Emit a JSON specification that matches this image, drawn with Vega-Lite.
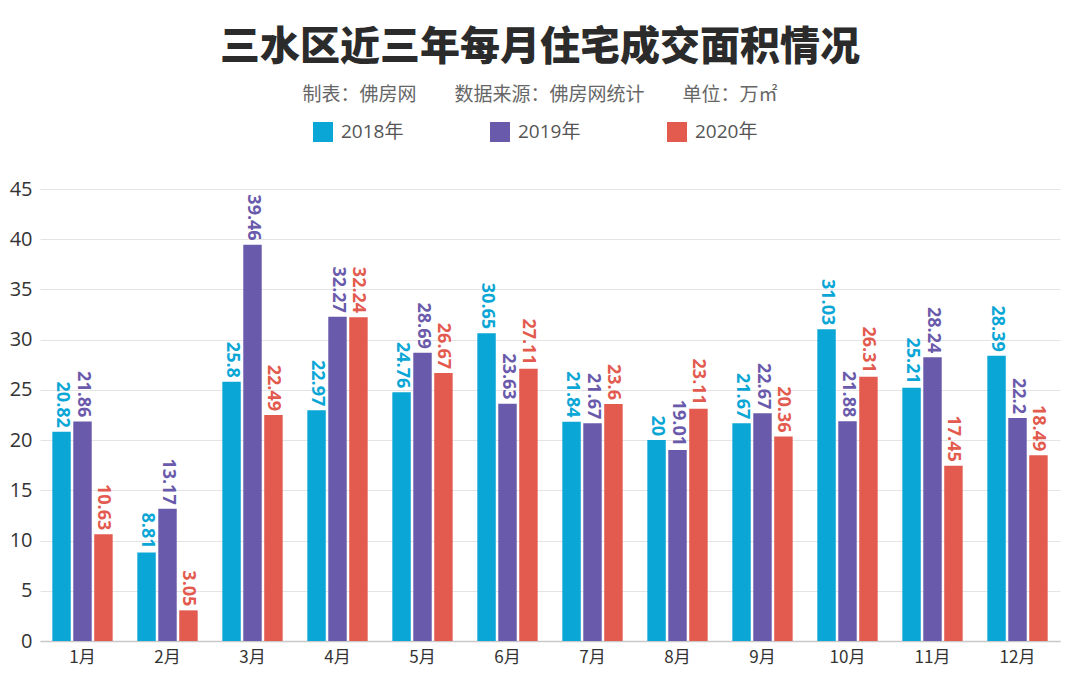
{
  "$schema": "https://vega.github.io/schema/vega-lite/v6.json",
  "width": 1020,
  "height": 452,
  "autosize": {"type": "none"},
  "padding": {"left": 40, "top": 189, "right": 20, "bottom": 34},
  "background": "white",
  "title": {
    "text": "三水区近三年每月住宅成交面积情况",
    "subtitle": "制表：佛房网\u3000\u3000数据来源：佛房网统计\u3000\u3000单位：万㎡",
    "anchor": "middle",
    "frame": "group",
    "offset": 17,
    "dx": -10,
    "font": "Noto Sans CJK SC",
    "fontSize": 40,
    "fontWeight": 900,
    "color": "#2b2b2b",
    "subtitleFont": "Noto Sans CJK SC",
    "subtitleFontSize": 19,
    "subtitleColor": "#666666",
    "subtitlePadding": 18
  },
  "config": {
    "view": {"stroke": null},
    "font": "Open Sans, Noto Sans CJK SC"
  },
  "data": {
    "values": [
      {"month": "1月", "year": "2018年", "value": 20.82},
      {"month": "1月", "year": "2019年", "value": 21.86},
      {"month": "1月", "year": "2020年", "value": 10.63},
      {"month": "2月", "year": "2018年", "value": 8.81},
      {"month": "2月", "year": "2019年", "value": 13.17},
      {"month": "2月", "year": "2020年", "value": 3.05},
      {"month": "3月", "year": "2018年", "value": 25.8},
      {"month": "3月", "year": "2019年", "value": 39.46},
      {"month": "3月", "year": "2020年", "value": 22.49},
      {"month": "4月", "year": "2018年", "value": 22.97},
      {"month": "4月", "year": "2019年", "value": 32.27},
      {"month": "4月", "year": "2020年", "value": 32.24},
      {"month": "5月", "year": "2018年", "value": 24.76},
      {"month": "5月", "year": "2019年", "value": 28.69},
      {"month": "5月", "year": "2020年", "value": 26.67},
      {"month": "6月", "year": "2018年", "value": 30.65},
      {"month": "6月", "year": "2019年", "value": 23.63},
      {"month": "6月", "year": "2020年", "value": 27.11},
      {"month": "7月", "year": "2018年", "value": 21.84},
      {"month": "7月", "year": "2019年", "value": 21.67},
      {"month": "7月", "year": "2020年", "value": 23.6},
      {"month": "8月", "year": "2018年", "value": 20},
      {"month": "8月", "year": "2019年", "value": 19.01},
      {"month": "8月", "year": "2020年", "value": 23.11},
      {"month": "9月", "year": "2018年", "value": 21.67},
      {"month": "9月", "year": "2019年", "value": 22.67},
      {"month": "9月", "year": "2020年", "value": 20.36},
      {"month": "10月", "year": "2018年", "value": 31.03},
      {"month": "10月", "year": "2019年", "value": 21.88},
      {"month": "10月", "year": "2020年", "value": 26.31},
      {"month": "11月", "year": "2018年", "value": 25.21},
      {"month": "11月", "year": "2019年", "value": 28.24},
      {"month": "11月", "year": "2020年", "value": 17.45},
      {"month": "12月", "year": "2018年", "value": 28.39},
      {"month": "12月", "year": "2019年", "value": 22.2},
      {"month": "12月", "year": "2020年", "value": 18.49}
    ]
  },
  "encoding": {
    "x": {
      "field": "month",
      "type": "nominal",
      "sort": null,
      "scale": {"paddingInner": 0.29, "paddingOuter": 0.145},
      "axis": {
        "title": null,
        "labelAngle": 0,
        "labelFontSize": 17,
        "labelColor": "#333333",
        "labelFont": "Noto Sans CJK SC",
        "labelPadding": 8,
        "ticks": false,
        "domainColor": "#c8c8c8",
        "domainWidth": 1.5
      }
    },
    "xOffset": {
      "field": "year",
      "type": "nominal",
      "scale": {"paddingInner": 0.12}
    },
    "y": {
      "field": "value",
      "type": "quantitative",
      "scale": {"domain": [0, 45]},
      "axis": {
        "title": null,
        "values": [0, 5, 10, 15, 20, 25, 30, 35, 40, 45],
        "labelFontSize": 20,
        "labelColor": "#333333",
        "labelPadding": 8,
        "ticks": false,
        "domain": false,
        "gridColor": "#e4e4e4",
        "gridWidth": 1
      }
    },
    "color": {
      "field": "year",
      "type": "nominal",
      "scale": {
        "domain": ["2018年", "2019年", "2020年"],
        "range": ["#0aa6d6", "#6a5aab", "#e35a4f"]
      },
      "legend": {
        "title": null,
        "orient": "none",
        "direction": "horizontal",
        "legendX": 273,
        "legendY": -67,
        "symbolType": "square",
        "symbolSize": 400,
        "symbolStrokeWidth": 0,
        "symbolOpacity": 1,
        "labelFontSize": 19,
        "labelColor": "#555555",
        "labelFont": "Open Sans, Noto Sans CJK SC",
        "labelOffset": 8,
        "columnPadding": 86
      }
    }
  },
  "layer": [
    {"mark": {"type": "bar"}},
    {
      "mark": {
        "type": "text",
        "angle": 90,
        "align": "right",
        "baseline": "middle",
        "dx": -4,
        "fontSize": 18,
        "fontWeight": "bold",
        "font": "Open Sans"
      },
      "encoding": {
        "text": {"field": "value", "type": "quantitative"}
      }
    }
  ]
}
